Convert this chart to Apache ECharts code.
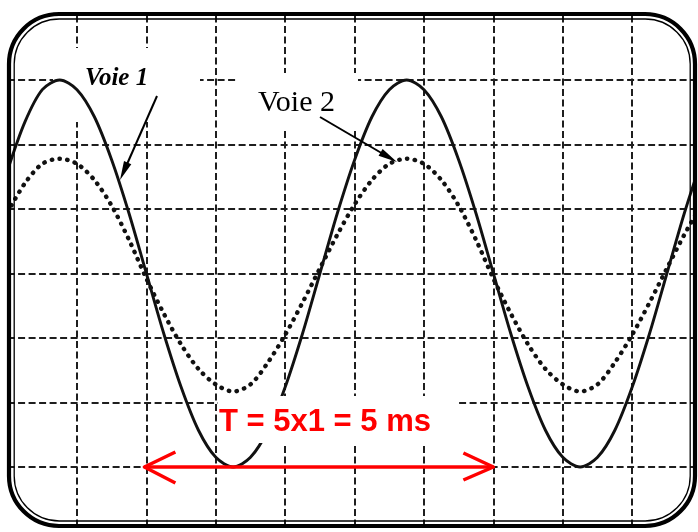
<!DOCTYPE html>
<html>
<head>
<meta charset="utf-8">
<script src="https://cdn.jsdelivr.net/npm/echarts@6/dist/echarts.min.js"></script>
<style>
html,body{margin:0;padding:0;background:#fff;}
#c{width:698px;height:532px;}
</style>
</head>
<body>
<div id="c"></div>
<script>
// time axis, in screen divisions (1 div = 1 ms)
const xDiv = [0,0.25,0.5,0.75,1,1.25,1.5,1.75,2,2.25,2.5,2.75,3,3.25,3.5,3.75,4,4.25,4.5,4.75,5,
              5.25,5.5,5.75,6,6.25,6.5,6.75,7,7.25,7.5,7.75,8,8.25,8.5,8.75,9,9.25,9.5,9.75,10];
// Voie 1 (solid trace), in vertical divisions
const voie1 = [1.6,2.35,2.85,3,2.85,2.43,1.76,0.93,0,-0.93,-1.76,-2.43,-2.85,-3,-2.85,-2.43,-1.76,-0.93,0,0.93,1.76,
               2.43,2.85,3,2.85,2.43,1.76,0.93,0,-0.93,-1.76,-2.43,-2.85,-3,-2.85,-2.43,-1.76,-0.93,0,0.93,1.76];
// Voie 2 (dotted trace), in vertical divisions
const voie2 = [0.95,1.4,1.7,1.78,1.7,1.45,1.05,0.52,-0.08,-0.62,-1.1,-1.48,-1.72,-1.83,-1.72,-1.38,-0.95,-0.45,0.08,0.6,1.07,
               1.45,1.7,1.78,1.7,1.45,1.05,0.52,-0.08,-0.62,-1.1,-1.48,-1.72,-1.83,-1.72,-1.38,-0.95,-0.45,0.08,0.6,1.07];
// period annotation (divisions)
const periodStart = 2, periodEnd = 7, periodLevel = -3;
const periodLabel = 'T = 5x1 = 5 ms';
const label1 = 'Voie 1', label2 = 'Voie 2';

const chart = echarts.init(document.getElementById('c'), null, {renderer: 'canvas'});

const gridLine = {color: '#1e1e1e', width: 2, type: [7, 3.5]};
chart.setOption({
  animation: false,
  backgroundColor: '#ffffff',
  grid: {left: 7.6, top: 15.5, width: 694, height: 516, containLabel: false, outerBoundsMode: 'none'},
  xAxis: {
    type: 'value', min: 0, max: 10, interval: 1,
    axisLine: {show: false}, axisTick: {show: false}, axisLabel: {show: false},
    splitLine: {show: true, showMinLine: false, showMaxLine: false, lineStyle: gridLine}
  },
  yAxis: {
    type: 'value', min: -4, max: 4, interval: 1,
    axisLine: {show: false}, axisTick: {show: false}, axisLabel: {show: false},
    splitLine: {show: true, showMinLine: false, showMaxLine: false, lineStyle: gridLine}
  },
  series: [
    {
      name: label1, type: 'line', data: xDiv.map((x, i) => [x, voie1[i]]),
      symbol: 'none', smooth: 0.3, z: 3,
      lineStyle: {color: '#111', width: 2.9}
    },
    {
      name: label2, type: 'line', data: xDiv.map((x, i) => [x, voie2[i]]),
      symbol: 'none', smooth: 0.3, z: 3,
      lineStyle: {color: '#111', width: 4.4, type: [0.4, 7.4], cap: 'round'}
    }
  ]
});

function head(x1, y1, x2, y2, len, half) {
  const dx = x2 - x1, dy = y2 - y1, L = Math.hypot(dx, dy), ux = dx / L, uy = dy / L;
  const bx = x2 - ux * len, by = y2 - uy * len;
  return [[x2, y2], [bx - uy * half, by + ux * half], [bx + uy * half, by - ux * half]];
}
function txt(text, x, y, size, weight, style, fill, z) {
  return {type: 'text', z: z, style: {
    text: text, x: x, y: y, fontSize: size, fontWeight: weight, fontStyle: style,
    fontFamily: '"Liberation Serif", "Times New Roman", serif', fill: fill,
    align: 'left', verticalAlign: 'middle', textAlign: 'left', textVerticalAlign: 'middle'
  }};
}

const P = (x, y) => chart.convertToPixel({gridIndex: 0}, [x, y]);
const L = P(periodStart, periodLevel), R = P(periodEnd, periodLevel);
const red = '#ff0000';

const G = [];
// blank patches behind the labels (grid erased there)
G.push({type: 'rect', z: 1, shape: {x: 53, y: 48, width: 147, height: 74}, style: {fill: '#fff'}});
G.push({type: 'rect', z: 1, shape: {x: 236, y: 73, width: 122, height: 58}, style: {fill: '#fff'}});
// masks outside the screen frame
G.push({type: 'rect', z: 100, shape: {x: 0, y: 528, width: 698, height: 4}, style: {fill: '#fff'}});
G.push({type: 'rect', z: 100, shape: {x: 696, y: 0, width: 2, height: 532}, style: {fill: '#fff'}});
G.push({type: 'rect', z: 100, shape: {x: 0, y: 0, width: 8, height: 532}, style: {fill: '#fff'}});
// screen frame
G.push({type: 'rect', z: 101, shape: {x: 9, y: 14, width: 686, height: 512, r: 50},
        style: {fill: 'none', stroke: '#000', lineWidth: 4.2}});
G.push({type: 'rect', z: 101, shape: {x: 14.2, y: 19, width: 676, height: 502, r: 45},
        style: {fill: 'none', stroke: '#000', lineWidth: 1.3}});
// Voie 1 label + arrow
G.push(txt(label1, 85, 78.5, 25, 'bold', 'italic', '#000', 102));
G.push({type: 'polyline', z: 102, shape: {points: [[157, 96], [124, 171]]}, style: {stroke: '#000', lineWidth: 2}});
G.push({type: 'polygon', z: 102, shape: {points: head(157, 96, 120, 180, 19, 4)}, style: {fill: '#000'}});
// Voie 2 label + arrow
G.push(txt(label2, 258, 103.5, 30, 'normal', 'normal', '#000', 102));
G.push({type: 'polyline', z: 102, shape: {points: [[320, 117], [390, 158]]}, style: {stroke: '#000', lineWidth: 2}});
G.push({type: 'polygon', z: 102, shape: {points: head(320, 117, 397, 162, 19, 4)}, style: {fill: '#000'}});
// period box + text
G.push({type: 'rect', z: 102, shape: {x: 218, y: 396, width: 238, height: 47}, style: {fill: '#fff'}});
G.push({type: 'text', z: 103, style: {
  text: periodLabel, x: 219, y: 422, fontSize: 31, fontWeight: 'bold',
  fontFamily: '"Liberation Sans", Arial, sans-serif', fill: red,
  align: 'left', verticalAlign: 'middle', textAlign: 'left', textVerticalAlign: 'middle'}});
// period double arrow
G.push({type: 'polyline', z: 103, shape: {points: [[L[0] - 2, L[1]], [R[0], R[1]]]}, style: {stroke: red, lineWidth: 3.5}});
G.push({type: 'polyline', z: 103, shape: {points: [[L[0] + 29, L[1] - 15], [L[0] - 2, L[1]], [L[0] + 29, L[1] + 16]]},
        style: {stroke: red, lineWidth: 3.5, fill: 'none', lineJoin: 'round'}});
G.push({type: 'polyline', z: 103, shape: {points: [[R[0] - 30, R[1] - 14], [R[0], R[1]], [R[0] - 30, R[1] + 13]]},
        style: {stroke: red, lineWidth: 3.5, fill: 'none', lineJoin: 'round'}});

chart.setOption({graphic: {elements: G}});
</script>
</body>
</html>
